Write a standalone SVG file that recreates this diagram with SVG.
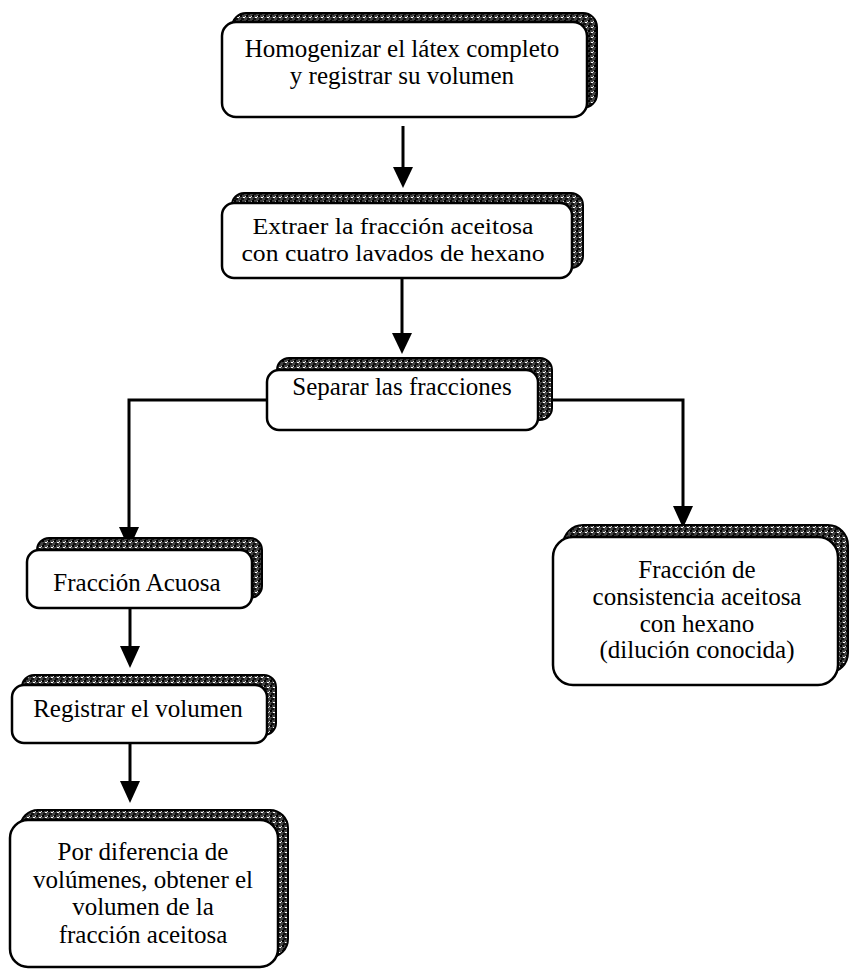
<svg xmlns="http://www.w3.org/2000/svg" width="850" height="972" viewBox="0 0 850 972">
<defs>
<pattern id="stip" width="6" height="5" patternUnits="userSpaceOnUse">
<rect width="6" height="5" fill="#444"/>
<rect x="0" y="0" width="2" height="2" fill="#000"/>
<rect x="3" y="2" width="2" height="1" fill="#fff"/>
<rect x="1" y="3" width="3" height="2" fill="#111"/>
<rect x="5" y="1" width="1" height="1" fill="#ddd"/>
</pattern>
<style>
.sh{fill:url(#stip);stroke:#000;stroke-width:2}
.bx{fill:#fff;stroke:#000;stroke-width:2.5}
.t{font-family:"Liberation Serif","Times New Roman",serif;font-size:25px;fill:#000;text-anchor:middle}
.s{font-size:24px}
.c{fill:none;stroke:#000;stroke-width:3}
.ah{fill:#000}
</style>
</defs>
<g id="connectors">
<line class="c" x1="403" y1="126" x2="403" y2="168"/>
<path class="ah" d="M393,167 L413,167 L403,188 Z"/>
<line class="c" x1="402" y1="278" x2="402" y2="334"/>
<path class="ah" d="M392,333 L412,333 L402,354 Z"/>
<polyline class="c" points="267,400 129,400 129,528"/>
<path class="ah" d="M119,527 L139,527 L129,549 Z"/>
<polyline class="c" points="552,400 683,400 683,507"/>
<path class="ah" d="M673,506 L693,506 L683,528 Z"/>
<line class="c" x1="130" y1="608" x2="130" y2="647"/>
<path class="ah" d="M120,646 L140,646 L130,668 Z"/>
<line class="c" x1="130" y1="743" x2="130" y2="782"/>
<path class="ah" d="M120,781 L140,781 L130,803 Z"/>
</g>
<g id="n1">
<rect class="sh" x="232" y="13" width="365" height="95" rx="14"/>
<rect class="bx" x="222" y="22" width="365" height="95" rx="14"/>
<text class="t" x="402" y="57">Homogenizar el látex completo</text>
<text class="t" x="402" y="84">y registrar su volumen</text>
</g>
<g id="n2">
<rect class="sh" x="232" y="193" width="351" height="75" rx="12"/>
<rect class="bx" x="222" y="203" width="350" height="75" rx="12"/>
<text class="t s" x="393" y="234" textLength="281" lengthAdjust="spacingAndGlyphs">Extraer la fracción aceitosa</text>
<text class="t s" x="393" y="261" textLength="303" lengthAdjust="spacingAndGlyphs">con cuatro lavados de hexano</text>
</g>
<g id="n3">
<rect class="sh" x="277" y="358" width="275" height="62" rx="12"/>
<rect class="bx" x="267" y="370" width="271" height="60" rx="12"/>
<text class="t" x="402" y="395">Separar las fracciones</text>
</g>
<g id="n4">
<rect class="sh" x="37" y="538" width="225" height="60" rx="12"/>
<rect class="bx" x="27" y="550" width="225" height="58" rx="12"/>
<text class="t" x="137" y="591">Fracción Acuosa</text>
</g>
<g id="n5">
<rect class="sh" x="22" y="675" width="254" height="60" rx="12"/>
<rect class="bx" x="12" y="685" width="255" height="58" rx="12"/>
<text class="t" x="138" y="717">Registrar el volumen</text>
</g>
<g id="n6">
<rect class="sh" x="20" y="810" width="268" height="147" rx="18"/>
<rect class="bx" x="10" y="820" width="268" height="147" rx="18"/>
<text class="t" x="143" y="860">Por diferencia de</text>
<text class="t" x="143" y="888">volúmenes, obtener el</text>
<text class="t" x="143" y="915">volumen de la</text>
<text class="t" x="143" y="943">fracción aceitosa</text>
</g>
<g id="n7">
<rect class="sh" x="563" y="525" width="285" height="148" rx="20"/>
<rect class="bx" x="553" y="537" width="285" height="148" rx="20"/>
<text class="t" x="697" y="578">Fracción de</text>
<text class="t" x="697" y="605">consistencia aceitosa</text>
<text class="t" x="697" y="632">con hexano</text>
<text class="t" x="697" y="658">(dilución conocida)</text>
</g>
</svg>
